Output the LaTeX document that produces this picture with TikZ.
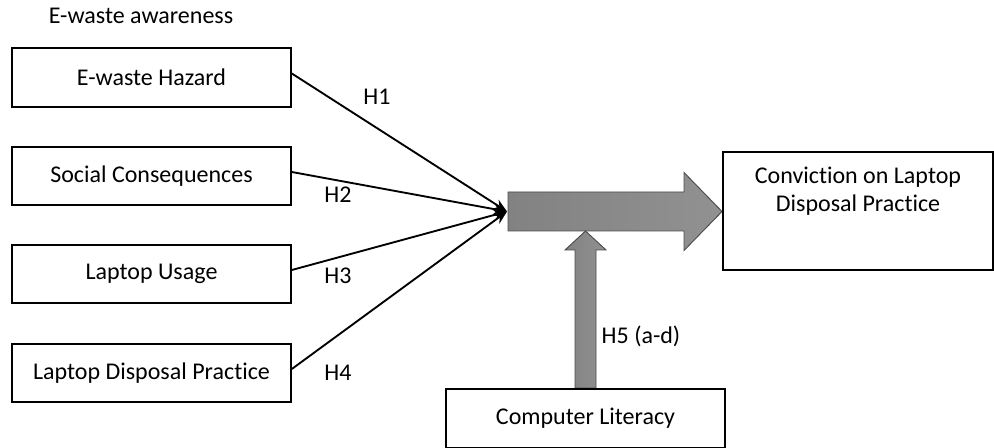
\documentclass[tikz,border=0pt]{standalone}
\usepackage{fontspec}
\setmainfont{Carlito}[Ligatures=NoCommon]
\usepackage{tikz}
\usetikzlibrary{arrows.meta,calc,backgrounds}
\tikzset{factor/.style={draw,line width=1.5pt,minimum width=209pt,minimum height=44pt,inner sep=0pt},
    hyp/.style={inner sep=0pt},
    link/.style={line width=1.4pt,-{Stealth[length=10pt,width=8pt]}},
    fatarrow/.style={draw=black!70,line width=0.7pt,left color=black!49,right color=black!43}}

\begin{document}
\begin{tikzpicture}[x=0.75pt,y=-0.75pt,font=\fontsize{18}{21.5}\selectfont]
    \useasboundingbox (0,0) rectangle (994,448);
    \node[hyp] (aware) at (141,16) {E-waste awareness};
    \node[factor] (hazard) at (151.5,77.5) {E-waste Hazard};
    \node[factor] (social) at (151.5,176) {Social Consequences};
    \node[factor] (usage) at (151.5,274) {Laptop Usage};
    \node[factor] (disposal) at (151.5,373) {Laptop Disposal Practice};
    \node[factor,minimum width=202.5pt,minimum height=88.5pt] (convict) at (858,211.5) {};
    \node[anchor=north,align=center,inner sep=0pt] (convtext) at ($(convict.north)+(0,15)$)
        {Conviction on Laptop\\Disposal Practice};
    \node[factor] (literacy) at (585.5,418.5) {Computer Literacy};
    \coordinate (hub) at (507,211.5);
    \coordinate (lower) at (literacy.north |- 0,231);
    \begin{scope}[on background layer]
    \draw[fatarrow] ($(hub)+(1,-19.5)$) -- ($(convict.west)+(-38,-19.5)$) -- ($(convict.west)+(-38,-39)$)
        -- (convict.west) -- ($(convict.west)+(-38,39)$) -- ($(convict.west)+(-38,19.5)$)
        -- ($(hub)+(1,19.5)$) -- cycle;
    \draw[fatarrow] ($(literacy.north)+(-10.5,0)$) -- ($(lower)+(-10.5,19)$) -- ($(lower)+(-20.5,19)$)
        -- (lower) -- ($(lower)+(20.5,19)$) -- ($(lower)+(10.5,19)$)
        -- ($(literacy.north)+(10.5,0)$) -- cycle;
    \end{scope}
    \foreach \f in {hazard,social,usage,disposal}
        \draw[link] ($(\f.east)+(0,-4)$) -- (hub);
    \node[hyp] (h1) at (377,97) {H1};
    \node[hyp] (h2) at (338,195) {H2};
    \node[hyp] (h3) at (338,276) {H3};
    \node[hyp] (h4) at (338,373) {H4};
    \node[hyp] (h5) at (641,336) {H5 (a-d)};
\end{tikzpicture}
\end{document}
